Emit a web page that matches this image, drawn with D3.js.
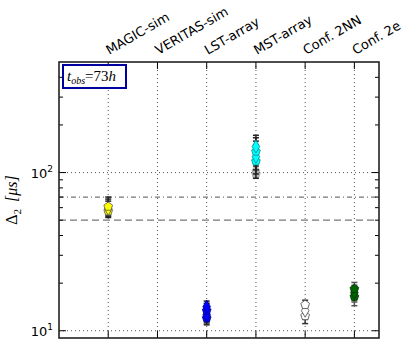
<!DOCTYPE html>
<meta charset="utf-8">
<style>
body { margin: 0; background: #fff; }
svg text { font-family: "DejaVu Sans", sans-serif; }
</style>
<body>
<script src="https://d3js.org/d3.v7.min.js"></script>
<script>

var categories = ["MAGIC-sim", "VERITAS-sim", "LST-array", "MST-array", "Conf. 2NN", "Conf. 2e"];

// per-series measurements: category slot, values, lower and upper error ends
var magicPos = 1, magicVals = [57, 59, 61], magicLo = [52, 53, 54], magicHi = [66, 68, 70];
var lstPos = 3, lstVals = [12, 12.6, 13.4, 14.2], lstLo = [10.9, 11.2, 11.8, 12.4], lstHi = [13.6, 14.2, 14.9, 15.4];
var mstPos = 4, mstVals = [118, 126, 136, 146], mstLo = [92, 98, 104, 110], mstHi = [150, 158, 166, 172];
var mstGreyVals = [98, 103];
var nnPos = 5, nnVals = [12.4, 13.4, 14.6], nnLo = [11.1, 11.8, 12.6], nnHi = [14.2, 15.0, 15.6];
var eePos = 6, eeVals = [16.4, 17.4, 18.4], eeLo = [14.4, 15.2, 16.0], eeHi = [18.6, 19.4, 20.2];

var refLines = [70, 50];
var yMajor = [10, 100];
var yMinor = [20, 30, 40, 50, 60, 70, 80, 90, 200, 300, 400];

var margin = {top: 62, right: 36, bottom: 8, left: 59},
    width = 415 - margin.left - margin.right,
    height = 346 - margin.top - margin.bottom;

var x = d3.scaleLinear().domain([0, 6.5]).range([0, width]);
var y = d3.scaleLog().domain([9, 500]).range([height, 0]);

// pentagon symbol
var pentagon = {
  draw: function(ctx, size) {
    var r = Math.sqrt(size / 2.38);
    for (var i = 0; i < 5; i++) {
      var a = -Math.PI / 2 + i * 2 * Math.PI / 5;
      if (i == 0) ctx.moveTo(r * Math.cos(a), r * Math.sin(a));
      else ctx.lineTo(r * Math.cos(a), r * Math.sin(a));
    }
    ctx.closePath();
  }
};

var svg = d3.select("body").append("svg")
    .attr("width", 415)
    .attr("height", 346)
  .append("g")
    .attr("transform", "translate(" + margin.left + "," + margin.top + ")");

// grid
svg.selectAll(".vgrid")
    .data(d3.range(1, 7))
  .enter().append("line")
    .attr("x1", function(d) { return x(d); })
    .attr("x2", function(d) { return x(d); })
    .attr("y1", 0).attr("y2", height)
    .attr("stroke", "#555").attr("stroke-width", 1)
    .attr("stroke-dasharray", "1,3");

svg.selectAll(".hgrid")
    .data(yMajor)
  .enter().append("line")
    .attr("x1", 0).attr("x2", width)
    .attr("y1", function(d) { return y(d); })
    .attr("y2", function(d) { return y(d); })
    .attr("stroke", "#555").attr("stroke-width", 1)
    .attr("stroke-dasharray", "1,3");

// reference lines
svg.selectAll(".ref")
    .data(refLines)
  .enter().append("line")
    .attr("x1", 0).attr("x2", width)
    .attr("y1", function(d) { return y(d); })
    .attr("y2", function(d) { return y(d); })
    .attr("stroke", "#777").attr("stroke-width", 1.2)
    .attr("stroke-dasharray", function(d, i) { return i == 0 ? "5,3,1,3" : "7,4"; });

// points
function drawSeries(pos, vals, lo, hi, fill, stroke, errColor, opacity) {
  var pts = vals.map(function(v, i) { return {x: pos, v: v, lo: lo ? lo[i] : null, hi: hi ? hi[i] : null, i: i}; });
  var g = svg.append("g").attr("opacity", opacity);
  pts.forEach(function(d) {
    if (d.lo == null) return;
    var px = x(d.x);
    g.append("line").attr("x1", px).attr("x2", px)
      .attr("y1", y(d.lo)).attr("y2", y(d.hi))
      .attr("stroke", errColor).attr("stroke-width", 1.5);
    [d.lo, d.hi].forEach(function(e) {
      g.append("line").attr("x1", px - 3).attr("x2", px + 3)
        .attr("y1", y(e)).attr("y2", y(e))
        .attr("stroke", errColor).attr("stroke-width", 1.5);
    });
  });
  g.selectAll("path")
      .data(pts)
    .enter().append("path")
      .attr("transform", function(d) { return "translate(" + x(d.x) + "," + y(d.v) + ")"; })
      .attr("d", function(d) { return d3.symbol().type(d.i % 2 ? d3.symbolDiamond : pentagon).size(50)(); })
      .attr("fill", fill)
      .attr("stroke", stroke)
      .attr("stroke-width", 0.8);
}

drawSeries(magicPos, magicVals, magicLo, magicHi, "#ffff00", "#555", "#222", 1);
drawSeries(lstPos, lstVals, lstLo, lstHi, "#0000ff", "#00008b", "#222", 1);
drawSeries(mstPos, mstGreyVals, null, null, "#888", "#666", "#666", 0.6);
drawSeries(mstPos, mstVals, mstLo, mstHi, "#00ffff", "#008b8b", "#222", 1);
drawSeries(nnPos, nnVals, nnLo, nnHi, "#ffffff", "#444", "#333", 1);
drawSeries(eePos, eeVals, eeLo, eeHi, "#006400", "#003300", "#555", 1);

// ticks
var tickG = svg.append("g").attr("stroke", "#000").attr("stroke-width", 1);
d3.range(1, 7).forEach(function(c) {
  tickG.append("line").attr("x1", x(c)).attr("x2", x(c)).attr("y1", height).attr("y2", height - 7);
  tickG.append("line").attr("x1", x(c)).attr("x2", x(c)).attr("y1", 0).attr("y2", 7);
});
yMajor.forEach(function(v) {
  tickG.append("line").attr("x1", 0).attr("x2", 7).attr("y1", y(v)).attr("y2", y(v));
  tickG.append("line").attr("x1", width).attr("x2", width - 7).attr("y1", y(v)).attr("y2", y(v));
});
yMinor.forEach(function(v) {
  tickG.append("line").attr("x1", 0).attr("x2", 4).attr("y1", y(v)).attr("y2", y(v));
  tickG.append("line").attr("x1", width).attr("x2", width - 4).attr("y1", y(v)).attr("y2", y(v));
});

// frame
svg.append("rect")
    .attr("width", width).attr("height", height)
    .attr("fill", "none").attr("stroke", "#222").attr("stroke-width", 1.6);

// y tick labels
var yl = svg.selectAll(".ylab")
    .data(yMajor)
  .enter().append("text")
    .attr("x", -6)
    .attr("y", function(d) { return y(d) + 5; })
    .attr("text-anchor", "end")
    .style("font-size", "13px");
yl.append("tspan").text("10");
yl.append("tspan").attr("dy", -6).style("font-size", "9px")
    .text(function(d) { return Math.round(Math.log10(d)); });

// x tick labels on top, rotated
svg.selectAll(".xlab")
    .data(categories)
  .enter().append("text")
    .attr("transform", function(d, i) { return "translate(" + (x(i + 1) + 1) + "," + -7 + ") rotate(-30)"; })
    .style("font-size", "13px")
    .text(function(d) { return d; });

// y axis label
var ylab = svg.append("text")
    .attr("transform", "translate(" + -42 + "," + (height / 2) + ") rotate(-90)")
    .attr("text-anchor", "middle")
    .style("font-family", "'Liberation Serif', serif")
    .style("font-size", "16px");
ylab.append("tspan").text("Δ");
ylab.append("tspan").attr("dy", 4).style("font-size", "11px").text("2");
ylab.append("tspan").attr("dy", -4).attr("dx", 7).style("font-style", "italic").text("[μs]");

// annotation box
svg.append("rect")
    .attr("x", 4).attr("y", 3).attr("width", 63).attr("height", 23)
    .attr("fill", "#fff").attr("stroke", "#0000a0").attr("stroke-width", 2);
var ann = svg.append("text")
    .attr("x", 8).attr("y", 19)
    .style("font-family", "'Liberation Serif', serif")
    .style("font-style", "italic")
    .style("font-size", "15px");
ann.append("tspan").text("t");
ann.append("tspan").attr("dy", 3).style("font-size", "10px").text("obs");
ann.append("tspan").attr("dy", -3).style("font-style", "normal").text("=73");
ann.append("tspan").text("h");

</script>
